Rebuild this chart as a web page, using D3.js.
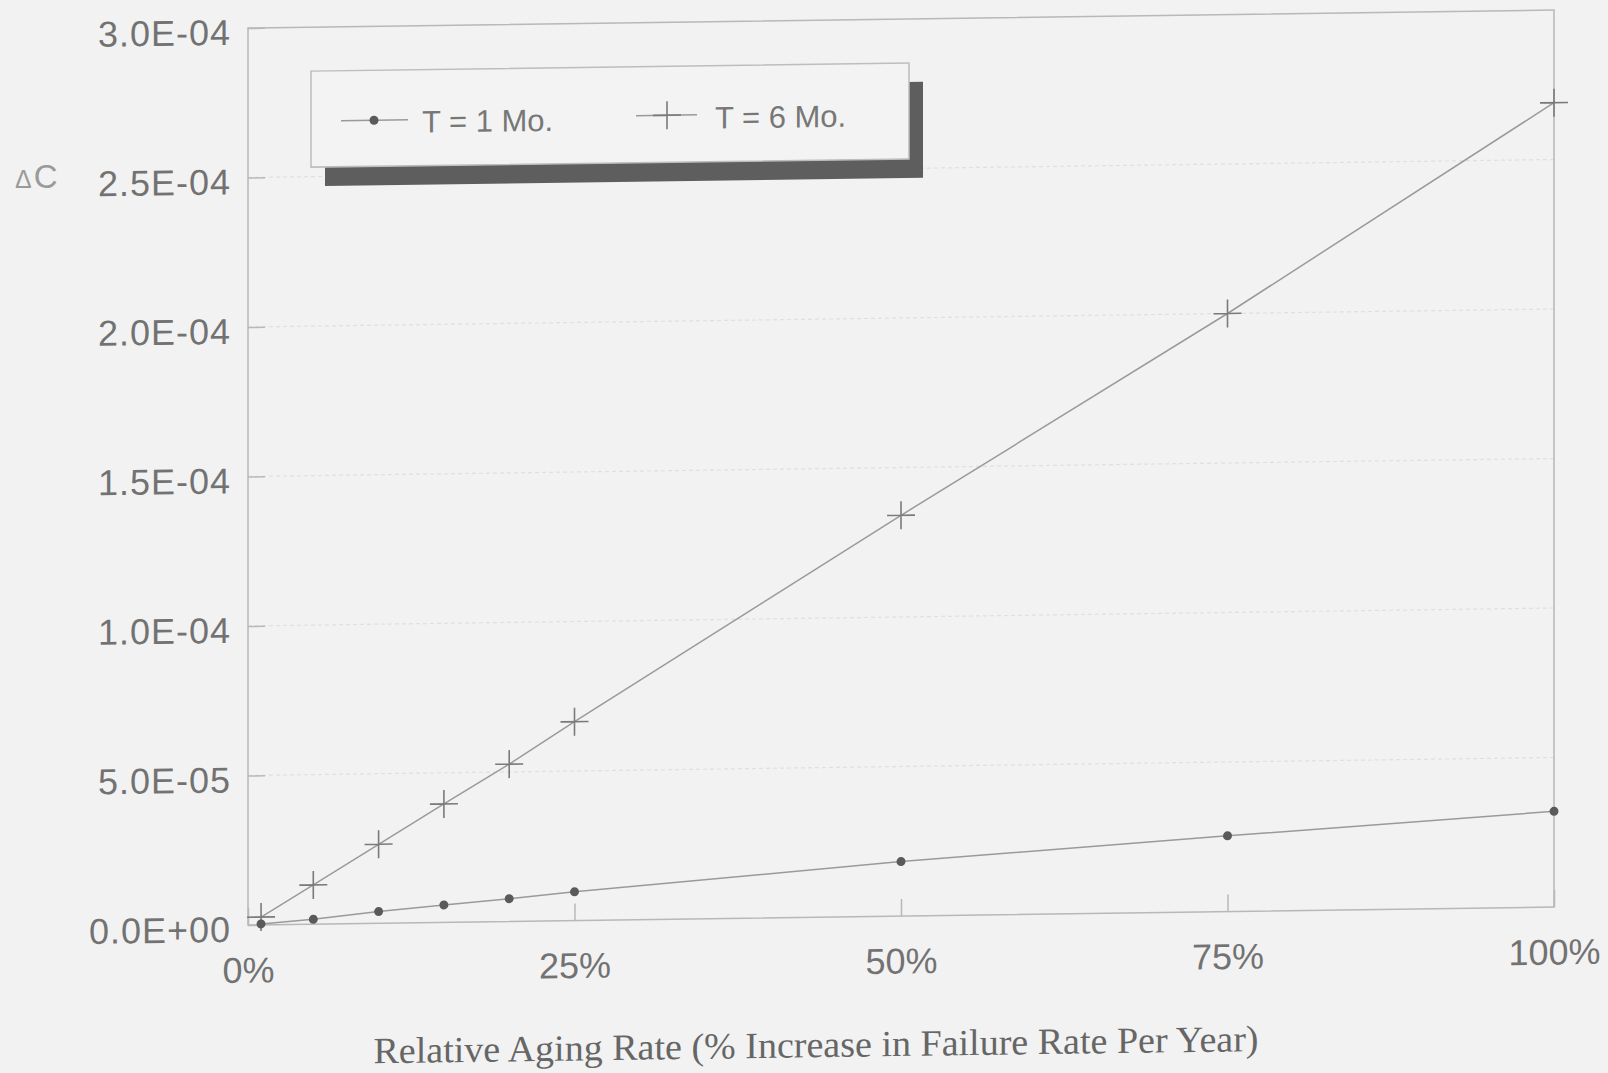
<!DOCTYPE html>
<html>
<head>
<meta charset="utf-8">
<script src="https://cdn.jsdelivr.net/npm/d3@7/dist/d3.min.js"></script>
<style>
  html, body { margin: 0; padding: 0; background: #f2f2f2; }
  svg { display: block; }
</style>
</head>
<body>
<script>
// ---- data ----
const agingRate = [1, 5, 10, 15, 20, 25, 50, 75, 100];           // % increase per year
const deltaC_T1 = [0.3e-6, 1.6e-6, 3.9e-6, 5.8e-6, 7.6e-6, 9.6e-6, 1.82e-5, 2.53e-5, 3.2e-5];
const deltaC_T6 = [2.6e-6, 1.31e-5, 2.64e-5, 3.96e-5, 5.26e-5, 6.65e-5, 1.34e-4, 2.0e-4, 2.69e-4];
const seriesNames = ["T = 1 Mo.", "T = 6 Mo."];
const yTickValues = [0, 5e-5, 1e-4, 1.5e-4, 2e-4, 2.5e-4, 3e-4];
const yTickLabels = ["0.0E+00", "5.0E-05", "1.0E-04", "1.5E-04", "2.0E-04", "2.5E-04", "3.0E-04"];
const xTickValues = [0, 25, 50, 75, 100];
const xTickLabels = ["0%", "25%", "50%", "75%", "100%"];
const xTitle = "Relative Aging Rate (% Increase in Failure Rate Per Year)";
const yTitle = "C";

const W = 1608, H = 1073;
const L = 248, R = 1554, T = 28, B = 925;
const sans = "'Liberation Sans', Arial, Helvetica, sans-serif";
const serif = "'Liberation Serif', 'Times New Roman', serif";

const svg = d3.select("body").append("svg").attr("width", W).attr("height", H);
svg.append("rect").attr("width", W).attr("height", H).attr("fill", "#f2f2f2");

const x = d3.scaleLinear().domain([0, 100]).range([L, R]);
const y = d3.scaleLinear().domain([0, 3e-4]).range([B, T]);

// slight scan skew of the original
const g = svg.append("g").attr("transform", `translate(${L},0) skewY(-0.79) translate(${-L},0)`);

// faint gridlines
g.append("g").selectAll("line").data(yTickValues.slice(1, -1)).join("line")
  .attr("x1", L).attr("x2", R).attr("y1", d => y(d)).attr("y2", d => y(d))
  .attr("stroke", "#e0e0e0").attr("stroke-width", 1.2).attr("stroke-dasharray", "4,3");

// plot frame
g.append("rect").attr("x", L).attr("y", T).attr("width", R - L).attr("height", B - T)
  .attr("fill", "none").attr("stroke", "#b8b8b8").attr("stroke-width", 1.5);

// y axis
const yAxis = g.append("g").attr("transform", `translate(${L},0)`)
  .call(d3.axisLeft(y).tickValues(yTickValues).tickSize(-17).tickPadding(17)
    .tickFormat((d, i) => yTickLabels[i]));
yAxis.select(".domain").remove();
yAxis.selectAll(".tick line").attr("stroke", "#b8b8b8").attr("stroke-width", 1.5);
yAxis.selectAll(".tick text").attr("fill", "#727272").attr("font-family", sans)
  .attr("font-size", 36).attr("letter-spacing", 1).attr("dy", "0.45em");

// x axis
const xAxis = g.append("g").attr("transform", `translate(0,${B})`)
  .call(d3.axisBottom(x).tickValues(xTickValues).tickSize(-17).tickPadding(32)
    .tickFormat((d, i) => xTickLabels[i]));
xAxis.select(".domain").remove();
xAxis.selectAll(".tick line").attr("stroke", "#b8b8b8").attr("stroke-width", 1.5);
xAxis.selectAll(".tick text").attr("fill", "#727272").attr("font-family", sans).attr("font-size", 36);

// axis titles
g.append("text").attr("x", 816).attr("y", 1065).attr("text-anchor", "middle")
  .attr("font-family", serif).attr("font-size", 37).attr("fill", "#666")
  .attr("textLength", 885).attr("lengthAdjust", "spacingAndGlyphs").text(xTitle);
const yt = svg.append("text").attr("x", 15).attr("y", 188).attr("font-family", sans).attr("fill", "#9a9a9a");
yt.append("tspan").attr("font-size", 25).text("\u0394");
yt.append("tspan").attr("font-size", 33).attr("dx", 2).text(yTitle);

// series
const pts1 = agingRate.map((a, i) => [a, deltaC_T1[i]]);
const pts6 = agingRate.map((a, i) => [a, deltaC_T6[i]]);
const line = d3.line().x(d => x(d[0])).y(d => y(d[1]));

g.append("path").datum(pts6).attr("d", line).attr("fill", "none").attr("stroke", "#9a9a9a").attr("stroke-width", 1.5);
g.append("path").datum(pts1).attr("d", line).attr("fill", "none").attr("stroke", "#9a9a9a").attr("stroke-width", 1.5);

g.append("g").selectAll("path").data(pts6).join("path")
  .attr("transform", d => `translate(${x(d[0])},${y(d[1])})`)
  .attr("d", "M-14,0H14M0,-14V14")
  .attr("stroke", "#7a7a7a").attr("stroke-width", 1.6).attr("fill", "none");
g.append("g").selectAll("circle").data(pts1).join("circle")
  .attr("cx", d => x(d[0])).attr("cy", d => y(d[1])).attr("r", 4.5).attr("fill", "#5a5a5a");

// legend
const lg = g.append("g");
lg.append("rect").attr("x", 325).attr("y", 91).attr("width", 598).attr("height", 96).attr("fill", "#5e5e5e");
lg.append("rect").attr("x", 311).attr("y", 72).attr("width", 598).attr("height", 96)
  .attr("fill", "#f3f3f3").attr("stroke", "#bdbdbd").attr("stroke-width", 1.5);
// item 1
lg.append("line").attr("x1", 341).attr("x2", 408).attr("y1", 122).attr("y2", 122).attr("stroke", "#9a9a9a").attr("stroke-width", 1.5);
lg.append("circle").attr("cx", 374).attr("cy", 122).attr("r", 4.5).attr("fill", "#5a5a5a");
lg.append("text").attr("x", 422).attr("y", 135).attr("font-family", sans).attr("font-size", 31).attr("fill", "#777").text(seriesNames[0]);
// item 2
lg.append("line").attr("x1", 636).attr("x2", 697).attr("y1", 121).attr("y2", 121).attr("stroke", "#9a9a9a").attr("stroke-width", 1.5);
lg.append("path").attr("transform", "translate(667,121)").attr("d", "M-14,0H14M0,-14V14")
  .attr("stroke", "#7a7a7a").attr("stroke-width", 1.6).attr("fill", "none");
lg.append("text").attr("x", 715).attr("y", 135).attr("font-family", sans).attr("font-size", 31).attr("fill", "#777").text(seriesNames[1]);
</script>
</body>
</html>
